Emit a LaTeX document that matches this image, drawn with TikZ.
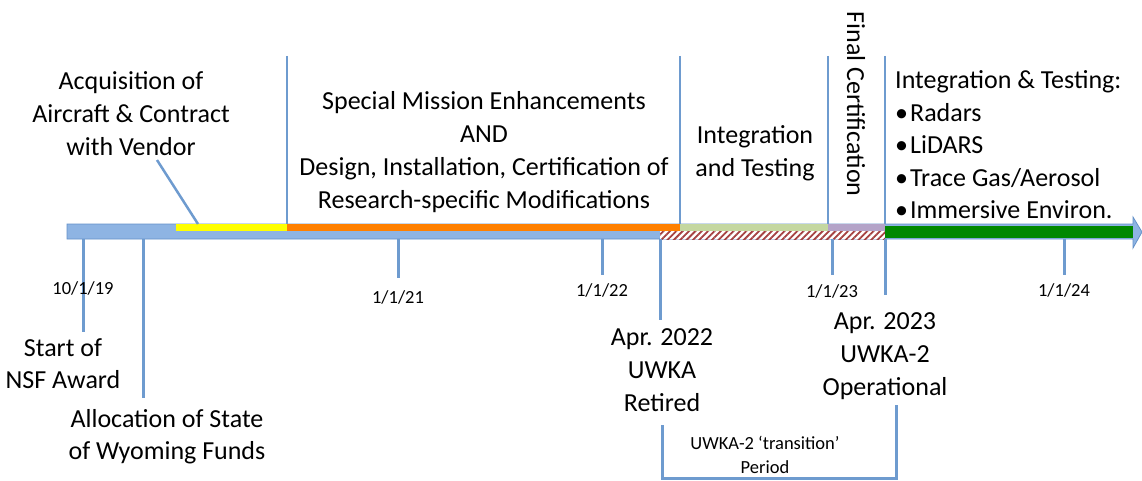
\documentclass[tikz,border=0pt]{standalone}
\usepackage{fontspec}
\setmainfont{Carlito}
\usetikzlibrary{patterns.meta}
\definecolor{lineblue}{RGB}{110,155,207}
\definecolor{barblue}{RGB}{142,180,227}
\definecolor{barborder}{RGB}{100,145,200}
\definecolor{myyellow}{RGB}{255,255,0}
\definecolor{myorange}{RGB}{255,128,0}
\definecolor{mylgreen}{RGB}{196,215,160}
\definecolor{mypurple}{RGB}{180,163,200}
\definecolor{mygreen}{RGB}{0,136,0}
\definecolor{hatch}{RGB}{165,65,65}
\begin{document}
\begin{tikzpicture}[x=1pt,y=-1pt,
  big/.style={font=\fontsize{26}{33}\selectfont, align=center, inner sep=0pt},
  small/.style={font=\fontsize{18.5}{24}\selectfont, align=center, inner sep=0pt},
  conn/.style={draw=lineblue, line width=3pt}]
\useasboundingbox (0,0) rectangle (1142,481);
% timeline bar
\path[fill=barblue, draw=barborder, line width=0.8pt]
  (67,224) -- (1133,224) -- (1133,217) -- (1142,232) -- (1133,248) -- (1133,239) -- (67,239) -- cycle;
\fill[myyellow] (176,224) rectangle (287,231);
\fill[myorange] (287,224) rectangle (680,231);
\fill[mylgreen] (680,224) rectangle (828,231);
\fill[mypurple] (828,224) rectangle (885,231);
\fill[white] (660,231) rectangle (885,239);
\fill[pattern={Lines[angle=45,distance=4.5pt,line width=1.8pt]}, pattern color=hatch] (660,231) rectangle (885,239);
\fill[mygreen] (885,226) rectangle (1133,238);

% coordinates on the bar
\coordinate (b83) at (83,239);
\coordinate (b143) at (143,239);
\coordinate (b198) at (198,224);
\coordinate (t287) at (287,224);
\coordinate (b398) at (398,239);
\coordinate (b602) at (602,239);
\coordinate (b660) at (660,239);
\coordinate (t680) at (680,224);
\coordinate (t828) at (828,224);
\coordinate (b832) at (832,239);
\coordinate (t885) at (885,224);
\coordinate (b885) at (885,239);
\coordinate (b1064) at (1064,239);
\coordinate (top287) at (287,56);
\coordinate (top680) at (680,56);
\coordinate (top828) at (828,56);
\coordinate (top885) at (885,56);
\coordinate (e83) at (83,332);
\coordinate (e143) at (143,398);
\coordinate (a157) at (157,160);
\coordinate (e398) at (398,278);
\coordinate (e602) at (602,275);
\coordinate (e660) at (660,320);
\coordinate (e832) at (832,275);
\coordinate (e885) at (885,295);
\coordinate (e1064) at (1064,275);
\coordinate (brL) at (662,425);
\coordinate (brBL) at (662,478);
\coordinate (brBR) at (896,478);
\coordinate (brR) at (896,405);

% connectors
\draw[conn] (b83) -- (e83);
\draw[conn] (b143) -- (e143);
\draw[conn, line width=2.5pt] (a157) -- (b198);
\draw[conn, line width=2.5pt] (top287) -- (t287);
\draw[conn] (b398) -- (e398);
\draw[conn] (b602) -- (e602);
\draw[conn] (b660) -- (e660);
\draw[conn, line width=2.5pt] (top680) -- (t680);
\draw[conn, line width=2.5pt] (top828) -- (t828);
\draw[conn] (b832) -- (e832);
\draw[conn, line width=2.5pt] (top885) -- (t885);
\draw[conn] (b885) -- (e885);
\draw[conn] (b1064) -- (e1064);
\draw[conn] (brL) -- (brBL) -- (brBR) -- (brR);

% texts above
\node[big] (acq) at (131,114) {Acquisition of\\Aircraft \& Contract\\with Vendor};
\node[big] (sme) at (484,152) {Special Mission Enhancements\\AND\\Design, Installation, Certification of\\Research-specific Modifications};
\node[big] (int) at (755,153) {Integration\\and Testing};
\node[big, rotate=-90] (fin) at (856,104) {Final Certification};
\node[big, align=left, anchor=west, font=\fontsize{26}{32.5}\selectfont] (it) at (895,145) {Integration \& Testing:\\•\kern2pt Radars\\•\kern2pt LiDARS\\•\kern2pt Trace Gas/Aerosol\\•\kern2pt Immersive Environ.};

% date labels
\node[small] (d19) at (83,288) {10/1/19};
\node[small] (d21) at (398,297) {1/1/21};
\node[small] (d22) at (602,290) {1/1/22};
\node[small] (d23) at (832,291) {1/1/23};
\node[small] (d24) at (1064,290) {1/1/24};

% texts below
\node[big, font=\fontsize{26}{32}\selectfont] (nsf) at (63,364) {Start of\\NSF Award};
\node[big, font=\fontsize{26}{32}\selectfont] (wyo) at (167,437) {Allocation of State\\of Wyoming Funds};
\node[big] (ret) at (662,370) {Apr. 2022\\UWKA\\Retired};
\node[big] (op) at (885,356) {Apr. 2023\\UWKA-2\\Operational};
\node[small, font=\fontsize{18.5}{24}\selectfont] (tr) at (765,455) {UWKA-2 ‘transition’\\Period};
\end{tikzpicture}
\end{document}
